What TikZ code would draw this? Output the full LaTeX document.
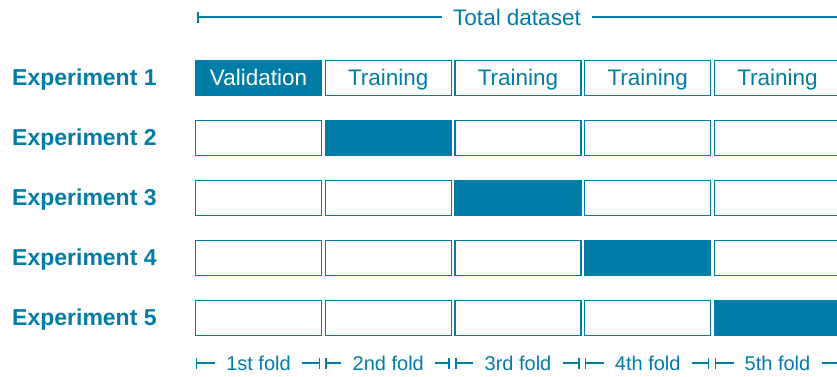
\documentclass[tikz,border=0pt]{standalone}
\usepackage{fontspec}
\setmainfont{Liberation Sans}
\usetikzlibrary{arrows.meta}
\definecolor{cvblue}{RGB}{0,125,166}

\begin{document}
\begin{tikzpicture}[x=1pt, y=-1pt,
  every node/.style={text=cvblue, font=\fontsize{22.5}{26}\selectfont},
  cell/.style={draw=cvblue, line width=1.4pt, minimum width=126pt, minimum height=35pt, inner sep=0pt,
    text height=16pt, text depth=2pt},
  valid/.style={cell, fill=cvblue, text=white},
  explabel/.style={anchor=west, inner sep=0pt, text height=16pt, text depth=2pt,
    font=\bfseries\fontsize{23}{26}\selectfont},
  foldtxt/.style={inner xsep=11pt, font=\fontsize{20}{24}\selectfont},
  dim/.style={draw=cvblue, line width=1.5pt}
]
  \clip (0,0) rectangle (837,376);
  \useasboundingbox (0,0) rectangle (837,376);

  % total dataset
  \node[inner xsep=11pt] (total) at (517,17) {Total dataset};
  \coordinate (tl) at (197,17);
  \coordinate (tr) at (850,17);
  \draw[dim, {Bar[width=11pt]}-] (tl) -- (total.west);
  \draw[dim] (total.east) -- (tr);

  % experiments and folds
  \foreach \r in {1,...,5} {
    \node[explabel] (exp\r) at (12,{18+60*\r}) {Experiment \r};
    \foreach \c in {1,...,5} {
      \ifnum\c=\r \def\sty{valid}\def\txt{Validation}\else \def\sty{cell}\def\txt{Training}\fi
      \ifnum\r>1 \def\txt{}\fi
      \node[\sty] (b\r\c) at ({128.75+129.75*\c},{18+60*\r}) {\txt};
    }
  }

  % fold dimension lines
  \foreach \c/\lbl in {1/1st,2/2nd,3/3rd,4/4th,5/5th} {
    \node[foldtxt] (f\c) at ({128.75+129.75*\c},363) {\lbl\ fold};
    \coordinate (fl\c) at ({65.75+129.75*\c},363);
    \coordinate (fr\c) at ({190.25+129.75*\c},363);
    \draw[dim, {Bar[width=11pt]}-] (fl\c) -- (f\c.west);
    \draw[dim, -{Bar[width=11pt]}] (f\c.east) -- (fr\c);
  }
\end{tikzpicture}
\end{document}
